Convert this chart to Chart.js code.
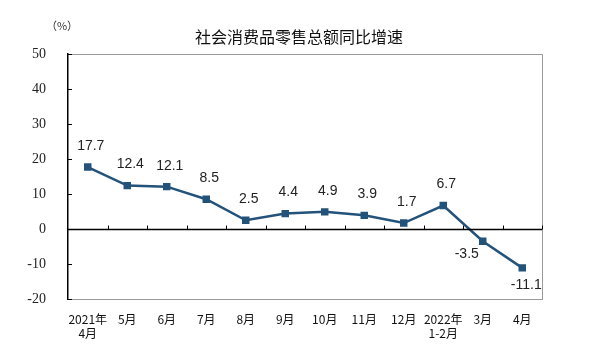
<!DOCTYPE html>
<html>
<head>
<meta charset="utf-8">
<script src="https://cdn.jsdelivr.net/npm/chart.js@4"></script>
<style>
  html, body { margin: 0; padding: 0; background: #fff; }
  #wrap { width: 600px; height: 360px; }
</style>
</head>
<body>
<div id="wrap"><canvas id="chart_sales"></canvas></div>
<script>
//Categories and values
const months = [["2021年","4月"], "5月", "6月", "7月", "8月", "9月", "10月", "11月", "12月", ["2022年","1-2月"], "3月", "4月"];
const growth = [17.7, 12.4, 12.1, 8.5, 2.5, 4.4, 4.9, 3.9, 1.7, 6.7, -3.5, -11.1];
const yTicks = [-20, -10, 0, 10, 20, 30, 40, 50];
const labelSide = ["up","up","up","up","up","up","up","up","up","up","downleft","down"];

const chartTitle = "社会消费品零售总额同比增速";
const unitText = "（%）";

const lineColor = "#23527a";

//Draws title, frame, zero axis, ticks and value labels
const decorPlugin = {
    id: 'decor',
    afterDraw(chart){
        const ctx = chart.ctx;
        const area = chart.chartArea;
        const y = chart.scales.y;
        ctx.save();

        //frame (top/right gray)
        ctx.strokeStyle = '#9a9a9a';
        ctx.lineWidth = 1;
        ctx.beginPath();
        ctx.moveTo(area.left, area.top + 0.5);
        ctx.lineTo(area.right + 0.5, area.top + 0.5);
        ctx.lineTo(area.right + 0.5, area.bottom);
        ctx.stroke();

        //zero line
        const y0 = Math.round(y.getPixelForValue(0)) + 0.5;
        ctx.strokeStyle = '#000';
        ctx.lineWidth = 1.3;
        ctx.beginPath();
        ctx.moveTo(area.left, y0);
        ctx.lineTo(area.right, y0);
        ctx.stroke();

        //category tick marks on zero line
        const step = (area.right - area.left) / months.length;
        ctx.lineWidth = 1;
        ctx.beginPath();
        for (let i = 1; i <= months.length; i++){
            const xp = Math.round(area.left + step * i) + 0.5;
            ctx.moveTo(xp, y0);
            ctx.lineTo(xp, y0 - 4);
        }
        ctx.stroke();

        //y axis ticks (inward)
        ctx.beginPath();
        yTicks.forEach(function(v){
            const yp = Math.round(y.getPixelForValue(v)) + 0.5;
            ctx.moveTo(area.left, yp);
            ctx.lineTo(area.left + 4, yp);
        });
        ctx.stroke();

        //title and unit
        ctx.fillStyle = '#111';
        ctx.font = '16px "Noto Sans CJK SC"';
        ctx.textAlign = 'center';
        ctx.textBaseline = 'middle';
        ctx.fillText(chartTitle, 299, 37);
        ctx.font = '11px "Noto Sans CJK SC"';
        ctx.fillStyle = '#333';
        ctx.fillText(unitText, 62, 26);

        //value labels
        ctx.font = '14px "Liberation Sans", Arial, sans-serif';
        ctx.fillStyle = '#222';
        const meta = chart.getDatasetMeta(0);
        meta.data.forEach(function(pt, i){
            let dx = 3, dy = -21;
            if (labelSide[i] == 'downleft'){ dx = -16; dy = 13; }
            if (labelSide[i] == 'down'){ dx = 4; dy = 17; }
            ctx.fillText(growth[i].toFixed(1), pt.x + dx, pt.y + dy);
        });
        ctx.restore();
    }
};

const config = {
    type: 'line',
    data: {
        labels: months,
        datasets: [{
            data: growth,
            borderColor: lineColor,
            backgroundColor: lineColor,
            borderWidth: 2.5,
            pointStyle: 'rect',
            pointRadius: 3.5,
            pointBackgroundColor: lineColor,
            pointBorderColor: lineColor,
            tension: 0
        }]
    },
    options: {
        responsive: false,
        animation: false,
        layout: { padding: { top: 54, right: 58, left: 0, bottom: 0 } },
        plugins: {
            legend: { display: false },
            title: { display: false },
            tooltip: { enabled: false }
        },
        scales: {
            x: {
                offset: true,
                grid: { display: false },
                border: { display: true, color: '#9a9a9a', width: 1 },
                ticks: {
                    color: '#111',
                    font: { family: '"Noto Sans CJK SC"', size: 12 },
                    padding: 5,
                    maxRotation: 0,
                    autoSkip: false
                },
                afterFit: function(scale){ scale.height = 61; }
            },
            y: {
                min: -20,
                max: 50,
                afterBuildTicks: function(scale){
                    scale.ticks = yTicks.map(function(v){ return { value: v }; });
                },
                grid: { display: false },
                border: { display: true, color: '#000', width: 1.5 },
                ticks: {
                    color: '#222',
                    font: { family: '"Liberation Serif", serif', size: 14 },
                    padding: 14
                },
                afterFit: function(scale){ scale.width = 68; }
            }
        }
    },
    plugins: [decorPlugin]
};

var canvas = document.getElementById("chart_sales");
canvas.width = 600;
canvas.height = 360;
var salesChart = new Chart(canvas.getContext("2d"), config);
</script>
</body>
</html>
